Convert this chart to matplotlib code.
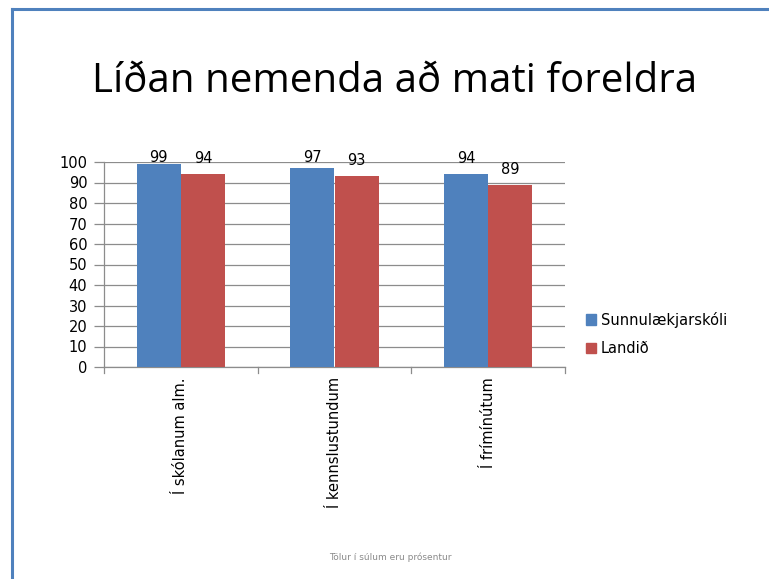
import matplotlib
matplotlib.use("Agg")
import matplotlib.pyplot as plt
import numpy as np
from matplotlib.patches import Patch
from matplotlib.lines import Line2D

categories = ["Í skólanum alm.", "Í kennslustundum", "Í frímínútum"]
series_names = ["Sunnulækjarskóli", "Landið"]
sunnulaekjarskoli = [99, 97, 94]
landid = [94, 93, 89]
yticks = list(range(0, 101, 10))
title = "Líðan nemenda að mati foreldra"
footnote = "Tölur í súlum eru prósentur"

blue = "#4F81BD"
red = "#C0504D"
grey = "#8c8c8c"

W, H = 769, 579
fig = plt.figure(figsize=(W / 100, H / 100), dpi=100)
fig.patch.set_facecolor("white")

# slide border (left + top)
fig.add_artist(Line2D([12 / W, 12 / W], [0, 1 - 9 / H], color=blue, lw=2.2, transform=fig.transFigure))
fig.add_artist(Line2D([12 / W, 1], [1 - 9 / H, 1 - 9 / H], color=blue, lw=2.2, transform=fig.transFigure))

ax = fig.add_axes([104 / W, 1 - 367 / H, (565 - 104) / W, (367 - 162) / H])
x = np.arange(len(categories))
bw = 0.287
b1 = ax.bar(x - bw / 2, sunnulaekjarskoli, bw, color=blue, zorder=3, label=series_names[0])
b2 = ax.bar(x + bw / 2, landid, bw, color=red, zorder=3, label=series_names[1])

# value labels: placed above bars, capped just above the plot top (as in the original layout)
for bars, vals in ((b1, sunnulaekjarskoli), (b2, landid)):
    for r, v in zip(bars, vals):
        ax.text(r.get_x() + r.get_width() / 2, min(v + 7.5, 102.3), f"{v}", ha="center", va="center",
                fontsize=10.5, family="DejaVu Sans", clip_on=False, zorder=4)

ax.set_xlim(-0.5, len(categories) - 0.5)
ax.set_ylim(0, 100)
ax.set_yticks(yticks)
ax.set_yticklabels([str(t) for t in yticks], fontsize=10.5)
ax.yaxis.grid(True, color=grey, lw=0.9, zorder=0)
ax.tick_params(axis="y", length=7, color=grey, pad=5, width=0.9)
ax.set_xticks([])
for b in np.arange(-0.5, len(categories), 1.0):
    ax.plot([b, b], [0, -3], color=grey, lw=0.9, clip_on=False)
for i, c in enumerate(categories):
    ax.text(i, -5, c, rotation=90, ha="center", va="top", fontsize=10.5)

for s in ("top", "right"):
    ax.spines[s].set_visible(False)
for s in ("bottom", "left"):
    ax.spines[s].set_color(grey)
    ax.spines[s].set_linewidth(0.9)

handles = [Patch(color=blue), Patch(color=red)]
fig.legend(handles, series_names, loc="center left", bbox_to_anchor=(573 / W, 1 - 334 / H),
           frameon=False, fontsize=10.5, handlelength=0.7, handleheight=0.7, handletextpad=0.3,
           labelspacing=0.95)

fig.text(395 / W, 1 - 82 / H, title, ha="center", va="center", fontsize=29, family="Open Sans")
fig.text(390 / W, 1 - 557 / H, footnote, ha="center", va="center", fontsize=6.5, color="#8a8a8a")

fig.savefig("out.png", dpi=100)
